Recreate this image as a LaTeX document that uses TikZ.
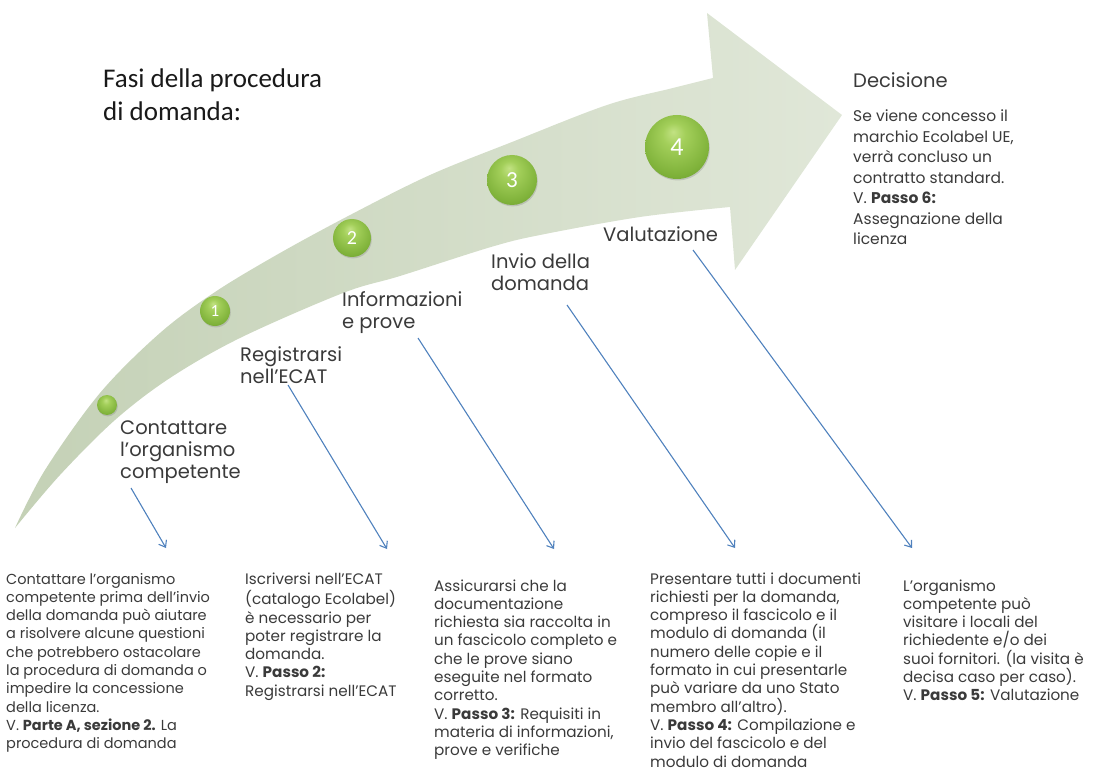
\documentclass[tikz,border=0pt]{standalone}
\usepackage{fontspec}
\setmainfont{Poppins}
\newfontfamily\calfont{Carlito}
\usetikzlibrary{arrows.meta,shadows}

\definecolor{bandL}{HTML}{C4D1B6}
\definecolor{bandR}{HTML}{E0E7D8}
\definecolor{gHi}{HTML}{C2E283}
\definecolor{gLight}{HTML}{A3CF5A}
\definecolor{gMid}{HTML}{7FB23A}
\definecolor{gDark}{HTML}{5C8E24}
\definecolor{gEdge}{HTML}{4C791B}
\definecolor{conn}{HTML}{4F81BD}
\definecolor{txt}{HTML}{3A3A3A}

\pgfdeclareradialshading{greenball}{\pgfpoint{-3bp}{12bp}}{color(0bp)=(gHi); color(9bp)=(gLight); color(27bp)=(gMid); color(42bp)=(gDark); color(50bp)=(gEdge)}

\tikzset{
  ball/.style={circle, shading=greenball, minimum size=#1, inner sep=0pt, text=white,
    drop shadow={opacity=0.3, shadow xshift=0.8pt, shadow yshift=-1.4pt}},
  blocktext/.style={anchor=north west, inner sep=0pt, align=left, text=txt,
    font=\fontsize{15.2}{18.3}\selectfont},
  steplabel/.style={anchor=north west, inner sep=0pt, align=left, text=txt,
    font=\fontsize{19.5}{22}\selectfont},
  decbody/.style={anchor=north west, inner sep=0pt, align=left, text=txt,
    font=\fontsize{15.5}{20.5}\selectfont},
  titletext/.style={anchor=north west, inner sep=0pt, align=left, text=black!90,
    font=\calfont\fontsize{27}{33}\selectfont},
  connector/.style={draw=conn, line width=1.1pt, -{Straight Barb[length=6pt,width=9pt]}},
  band/.style={left color=bandL, right color=bandR}
}

\begin{document}
\begin{tikzpicture}[x=1pt, y=-1pt]
\useasboundingbox (0,0) rectangle (1099,775);

% big curved arrow
\path[band] plot[smooth, tension=0.55] coordinates {(15,528) (45,470) (100,393) (160,333) (215,292) (280,253) (352,214) (430,175) (512,142) (607,105) (673,88) (713,78)}
  -- (707,13) -- (842,115) -- (735,270) -- (730,207)
  -- plot[smooth, tension=0.55] coordinates {(730,207) (640,217) (540,235) (491,247) (400,276) (343,293) (240,338) (170,378) (115,420) (60,475) (15,528)} -- cycle;

% title
\node[titletext] (title) at (103,64) {\strut Fasi della procedura\\di domanda:};

% balls
\node[ball=20pt] (b0) at (107,405) {};
\node[ball=30pt, font=\calfont\fontsize{17}{17}\selectfont] (b1) at (215,311) {1};
\node[ball=38pt, font=\calfont\fontsize{20}{20}\selectfont] (b2) at (352,238) {2};
\node[ball=50pt, font=\calfont\fontsize{23}{23}\selectfont] (b3) at (512,180) {3};
\node[ball=64pt, font=\calfont\fontsize{26}{26}\selectfont] (b4) at (677,147) {4};

% step labels
\node[steplabel] (l0) at (120,419) {\strut Contattare\\l'organismo\\competente};
\node[steplabel] (l1) at (240,346) {\strut Registrarsi\\nell'ECAT};
\node[steplabel] (l2) at (342,291) {\strut Informazioni\\e prove};
\node[steplabel] (l3) at (491,253) {\strut Invio della\\domanda};
\node[steplabel] (l4) at (603,226) {\strut Valutazione};
\node[steplabel] (l5) at (853,72) {\strut Decisione};
\node[decbody] (dec) at (853,107) {\strut Se viene concesso il\\marchio Ecolabel UE,\\verrà concluso un\\contratto standard.\\V. \textbf{Passo 6:}\\Assegnazione della\\licenza};

% bottom text blocks
\node[blocktext, font=\fontsize{14.5}{18.3}\selectfont] (t0) at (6,571) {\strut Contattare l'organismo\\competente prima dell'invio\\della domanda può aiutare\\a risolvere alcune questioni\\che potrebbero ostacolare\\la procedura di domanda o\\impedire la concessione\\della licenza.\\V. \textbf{Parte A, sezione 2.} La\\procedura di domanda};
\node[blocktext] (t1) at (245,571) {\strut Iscriversi nell'ECAT\\(catalogo Ecolabel)\\è necessario per\\poter registrare la\\domanda.\\V. \textbf{Passo 2:}\\Registrarsi nell'ECAT};
\node[blocktext] (t2) at (434,578) {\strut Assicurarsi che la\\documentazione\\richiesta sia raccolta in\\un fascicolo completo e\\che le prove siano\\eseguite nel formato\\corretto.\\V. \textbf{Passo 3:} Requisiti in\\materia di informazioni,\\prove e verifiche};
\node[blocktext] (t3) at (650,571) {\strut Presentare tutti i documenti\\richiesti per la domanda,\\compreso il fascicolo e il\\modulo di domanda (il\\numero delle copie e il\\formato in cui presentarle\\può variare da uno Stato\\membro all'altro).\\V. \textbf{Passo 4:} Compilazione e\\invio del fascicolo e del\\modulo di domanda};
\node[blocktext] (t4) at (903,578) {\strut L'organismo\\competente può\\visitare i locali del\\richiedente e/o dei\\suoi fornitori. (la visita è\\decisa caso per caso).\\V. \textbf{Passo 5:} Valutazione};

% connector end points
\coordinate (s0) at (131,488);
\coordinate (e0) at (166,548);
\coordinate (s1) at (288,385);
\coordinate (e1) at (387,549);
\coordinate (s2) at (418,338);
\coordinate (e2) at (554,549);
\coordinate (s3) at (567,305);
\coordinate (e3) at (735,548);
\coordinate (s4) at (693,250);
\coordinate (e4) at (912,548);

\draw[connector] (s0) -- (e0);
\draw[connector] (s1) -- (e1);
\draw[connector] (s2) -- (e2);
\draw[connector] (s3) -- (e3);
\draw[connector] (s4) -- (e4);
\end{tikzpicture}
\end{document}
